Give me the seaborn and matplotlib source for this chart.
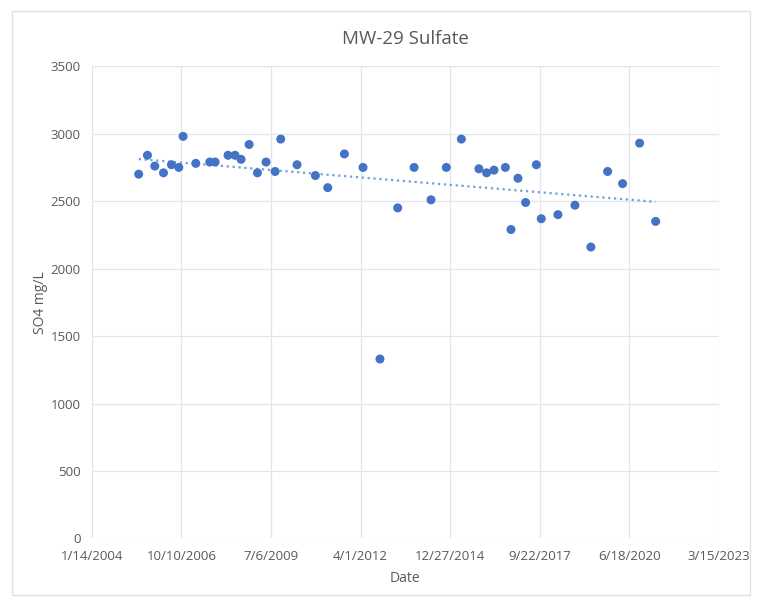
import pandas as pd
import numpy as np
import matplotlib
matplotlib.use("Agg")
import matplotlib.pyplot as plt
import matplotlib.dates as mdates
from matplotlib.ticker import FuncFormatter, MultipleLocator
import seaborn as sns

# sample dates and sulfate values
dates = [
    "2005-06-20", "2005-09-26", "2005-12-17", "2006-03-24", "2006-06-21",
    "2006-09-11", "2006-10-29", "2007-03-20", "2007-08-23", "2007-10-21",
    "2008-03-14", "2008-05-31", "2008-08-06", "2008-11-04", "2009-02-05",
    "2009-05-12", "2009-08-21", "2009-10-23", "2010-04-23", "2010-11-14",
    "2011-04-01", "2011-10-04", "2012-04-29", "2012-11-04", "2013-05-21",
    "2013-11-20", "2014-05-28", "2014-11-15", "2015-05-02", "2015-11-14",
    "2016-02-08", "2016-04-30", "2016-09-04", "2016-11-06", "2017-01-23",
    "2017-04-18", "2017-08-16", "2017-10-10", "2018-04-14", "2018-10-21",
    "2019-04-17", "2019-10-21", "2020-04-05", "2020-10-12", "2021-04-09",
]
so4 = [
    2700, 2840, 2760, 2710, 2770,
    2750, 2980, 2780, 2790, 2790,
    2840, 2840, 2810, 2920, 2710,
    2790, 2720, 2960, 2770, 2690,
    2600, 2850, 2750, 1330, 2450,
    2750, 2510, 2750, 2960, 2740,
    2710, 2730, 2750, 2290, 2670,
    2490, 2770, 2370, 2400, 2470,
    2160, 2720, 2630, 2930, 2350,
]
tick_dates = ["2004-01-14", "2006-10-10", "2009-07-06", "2012-04-01",
              "2014-12-27", "2017-09-22", "2020-06-18", "2023-03-15"]

df = pd.DataFrame({"date": pd.to_datetime(dates), "so4": so4})
df["num"] = mdates.date2num(df["date"])
ticks = mdates.date2num(pd.to_datetime(tick_dates))

sns.set_style("white")
plt.rcParams["font.family"] = ["Open Sans", "DejaVu Sans"]

fig = plt.figure(figsize=(7.59, 6.02), dpi=100)
ax = fig.add_axes([0.121, 0.1055, 0.826, 0.7845])

grid_c = "#e1e6ee"
text_c = "#595959"

sns.regplot(data=df, x="num", y="so4", scatter=False, ci=None, ax=ax,
            line_kws={"color": "#6fa0d8", "linestyle": ":", "linewidth": 1.6})
sns.scatterplot(data=df, x="num", y="so4", ax=ax, color="#4472C4",
                s=42, edgecolor="none", zorder=3)

ax.set_xlim(ticks[0], ticks[-1])
ax.set_ylim(0, 3500)
ax.set_xticks(ticks)
ax.xaxis.set_major_formatter(FuncFormatter(
    lambda v, p: "{d.month}/{d.day}/{d.year}".format(d=mdates.num2date(v))))
ax.yaxis.set_major_locator(MultipleLocator(500))
ax.grid(True, color=grid_c, linewidth=0.9)
ax.set_axisbelow(True)
for s in ax.spines.values():
    s.set_visible(False)
ax.tick_params(length=0, labelsize=9.5, colors=text_c, pad=8)

ax.set_xlabel("Date", fontsize=10, color=text_c, labelpad=6)
ax.set_ylabel("SO4 mg/L", fontsize=10, color=text_c, labelpad=2)
ax.set_title("MW-29 Sulfate", fontsize=13.5, color=text_c, pad=16)

# outer chart border
fig.patches.append(plt.Rectangle((0.016, 0.012), 0.972, 0.97, transform=fig.transFigure,
                                 fill=False, edgecolor="#e2e2e2", linewidth=1))

fig.savefig("out.png", dpi=100)
